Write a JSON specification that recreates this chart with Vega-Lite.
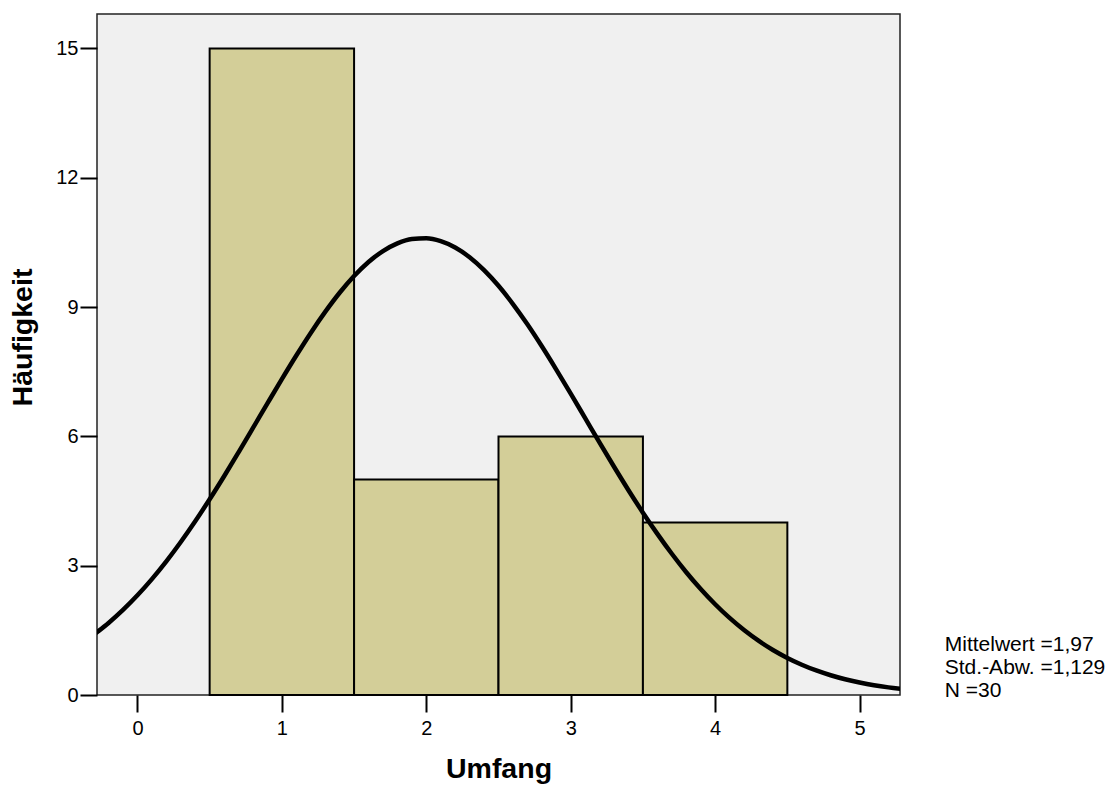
{
  "$schema": "https://vega.github.io/schema/vega-lite/v6.json",
  "autosize": "none",
  "padding": {"left": 97, "top": 14, "right": 211, "bottom": 93},
  "width": 803,
  "height": 681,
  "background": "#ffffff",
  "config": {
    "font": "Liberation Sans",
    "view": {"fill": "#f0f0f0", "stroke": "#222222", "strokeWidth": 1.5},
    "axis": {
      "domain": false,
      "grid": false,
      "ticks": true,
      "tickColor": "#000000",
      "tickWidth": 2,
      "tickSize": 17,
      "labelFont": "Liberation Sans",
      "labelFontSize": 20,
      "labelColor": "#000000",
      "titleFont": "Liberation Sans",
      "titleFontSize": 28.5,
      "titleFontWeight": "bold",
      "titleColor": "#000000"
    }
  },
  "datasets": {
    "bins": [
      {"lo": 0.5, "hi": 1.5, "count": 15},
      {"lo": 1.5, "hi": 2.5, "count": 5},
      {"lo": 2.5, "hi": 3.5, "count": 6},
      {"lo": 3.5, "hi": 4.5, "count": 4}
    ],
    "curve": [
      {"x": -0.3, "y": 1.405}, {"x": -0.2, "y": 1.672}, {"x": -0.1, "y": 1.974},
      {"x": 0.0, "y": 2.313}, {"x": 0.1, "y": 2.689}, {"x": 0.2, "y": 3.101},
      {"x": 0.3, "y": 3.55}, {"x": 0.4, "y": 4.031}, {"x": 0.5, "y": 4.541},
      {"x": 0.6, "y": 5.076}, {"x": 0.7, "y": 5.631}, {"x": 0.8, "y": 6.196},
      {"x": 0.9, "y": 6.765}, {"x": 1.0, "y": 7.329}, {"x": 1.1, "y": 7.877},
      {"x": 1.2, "y": 8.401}, {"x": 1.3, "y": 8.888}, {"x": 1.4, "y": 9.332},
      {"x": 1.5, "y": 9.72}, {"x": 1.6, "y": 10.046}, {"x": 1.7, "y": 10.301},
      {"x": 1.8, "y": 10.48}, {"x": 1.9, "y": 10.58}, {"x": 2.0, "y": 10.596},
      {"x": 2.1, "y": 10.53}, {"x": 2.2, "y": 10.383}, {"x": 2.3, "y": 10.157},
      {"x": 2.4, "y": 9.858}, {"x": 2.5, "y": 9.494}, {"x": 2.6, "y": 9.071},
      {"x": 2.7, "y": 8.601}, {"x": 2.8, "y": 8.09}, {"x": 2.9, "y": 7.55},
      {"x": 3.0, "y": 6.992}, {"x": 3.1, "y": 6.424}, {"x": 3.2, "y": 5.855},
      {"x": 3.3, "y": 5.296}, {"x": 3.4, "y": 4.752}, {"x": 3.5, "y": 4.231},
      {"x": 3.6, "y": 3.739}, {"x": 3.7, "y": 3.277}, {"x": 3.8, "y": 2.849},
      {"x": 3.9, "y": 2.459}, {"x": 4.0, "y": 2.105}, {"x": 4.1, "y": 1.788},
      {"x": 4.2, "y": 1.507}, {"x": 4.3, "y": 1.26}, {"x": 4.4, "y": 1.045},
      {"x": 4.5, "y": 0.861}, {"x": 4.6, "y": 0.703}, {"x": 4.7, "y": 0.569},
      {"x": 4.8, "y": 0.458}, {"x": 4.9, "y": 0.365}, {"x": 5.0, "y": 0.29},
      {"x": 5.1, "y": 0.227}, {"x": 5.2, "y": 0.177}, {"x": 5.3, "y": 0.137}
    ]
  },
  "layer": [
    {
      "data": {"name": "bins"},
      "mark": {"type": "rect", "fill": "#d3ce98", "stroke": "#000000", "strokeWidth": 2},
      "encoding": {
        "x": {
          "field": "lo", "type": "quantitative",
          "scale": {"domain": [-0.28, 5.28], "nice": false, "zero": false},
          "axis": {"values": [0, 1, 2, 3, 4, 5], "format": "d", "title": "Umfang", "labelPadding": 6, "titlePadding": 16}
        },
        "x2": {"field": "hi"},
        "y": {
          "field": "count", "type": "quantitative",
          "scale": {"domain": [0, 15.8], "nice": false},
          "axis": {"values": [0, 3, 6, 9, 12, 15], "format": "d", "title": "Häufigkeit", "labelPadding": 2, "titlePadding": 18, "titleY": 323}
        },
        "y2": {"datum": 0}
      }
    },
    {
      "data": {"name": "curve"},
      "mark": {"type": "line", "color": "#000000", "strokeWidth": 4.5, "clip": true, "interpolate": "monotone"},
      "encoding": {
        "x": {"field": "x", "type": "quantitative"},
        "y": {"field": "y", "type": "quantitative"}
      }
    },
    {
      "data": {"values": [{}]},
      "mark": {"type": "text", "align": "left", "baseline": "alphabetic", "fontSize": 21, "lineHeight": 23, "color": "#000000", "font": "Liberation Sans"},
      "encoding": {
        "x": {"datum": 5.59},
        "y": {"datum": 1.01},
        "text": {"value": ["Mittelwert =1,97", "Std.-Abw. =1,129", "N =30"]}
      }
    }
  ]
}
